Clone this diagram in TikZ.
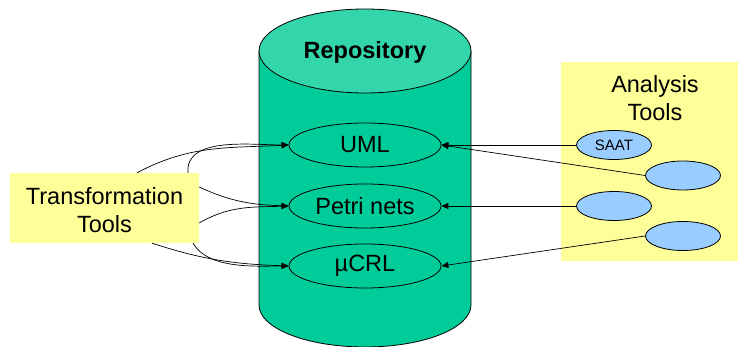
\documentclass[tikz,border=0pt]{standalone}
\usepackage{fontspec}
\setmainfont{Liberation Sans}
\usetikzlibrary{arrows.meta,shapes.geometric}
\definecolor{repobody}{HTML}{00CC99}
\definecolor{repotop}{HTML}{33D6AA}
\definecolor{toolbg}{HTML}{FFFF99}
\definecolor{toolblue}{HTML}{99CCFF}

\begin{document}
\begin{tikzpicture}[x=1pt,y=1pt,
  big/.style={font=\fontsize{23.5}{28}\selectfont},
  model/.style={ellipse, draw=black, line width=0.8pt, minimum width=152pt,
    minimum height=44pt, inner sep=0pt, big},
  tool/.style={ellipse, draw=black, line width=0.8pt, fill=toolblue,
    minimum width=75pt, minimum height=29pt, inner sep=0pt,
    font=\fontsize{15}{18}\selectfont},
  panel/.style={fill=toolbg, draw=none, inner sep=0pt},
  arr/.style={-{Triangle[length=7pt,width=6pt]}, line width=0.7pt}]
\useasboundingbox (0,0) rectangle (738,347);

% repository cylinder
\fill[repobody] (259,296) -- (259,42)
  arc[start angle=180, end angle=360, x radius=106, y radius=42] -- (471,296) -- cycle;
\draw[line width=0.8pt] (259,296) -- (259,42)
  arc[start angle=180, end angle=360, x radius=106, y radius=42] -- (471,296);
\draw[line width=0.8pt, fill=repotop] (365,296) ellipse[x radius=106, y radius=42];
\node[font=\fontsize{23.5}{28}\selectfont\bfseries] (repo) at (365,295) {Repository};

% models stored in the repository
\node[model] (uml) at (365,202) {UML};
\node[model] (petri) at (365,141) {Petri nets};
\node[model] (mcrl) at (365,81) {µCRL};

% transformation tools
\node[panel, minimum width=189pt, minimum height=70pt] (trans) at (104.5,139) {};
\node[big, align=center] (translabel) at (104.5,137) {Transformation\\Tools};

% analysis tools
\node[panel, minimum width=177pt, minimum height=199pt] (ana) at (649.5,185.5) {};
\node[big, align=center] (analabel) at (655,249) {Analysis\\Tools};
\node[tool] (saat) at (614,202) {SAAT};
\node[tool] (t2) at (683,171.5) {};
\node[tool] (t3) at (614,141) {};
\node[tool] (t4) at (683,111) {};

% transformations
\draw[arr] ([xshift=32.5pt]trans.north) to[out=28, in=183] (uml.west);
\draw[arr] ([xshift=83.5pt]trans.north) to[out=95, in=180, looseness=0.9] (uml.west);
\draw[arr] ([yshift=21pt]trans.east) to[out=-25, in=178] (petri.west);
\draw[arr] ([yshift=-15pt]trans.east) to[out=30, in=182] (petri.west);
\draw[arr] ([xshift=47.5pt]trans.south) to[out=-18, in=178] (mcrl.west);
\draw[arr] ([xshift=88.5pt]trans.south) to[out=-60, in=180, looseness=0.8] (mcrl.west);

% analyses
\draw[arr] (saat.west) -- (uml.east);
\draw[arr] (t2.west) -- (uml.east);
\draw[arr] (t3.west) -- (petri.east);
\draw[arr] (t4.west) -- (mcrl.east);
\end{tikzpicture}
\end{document}
